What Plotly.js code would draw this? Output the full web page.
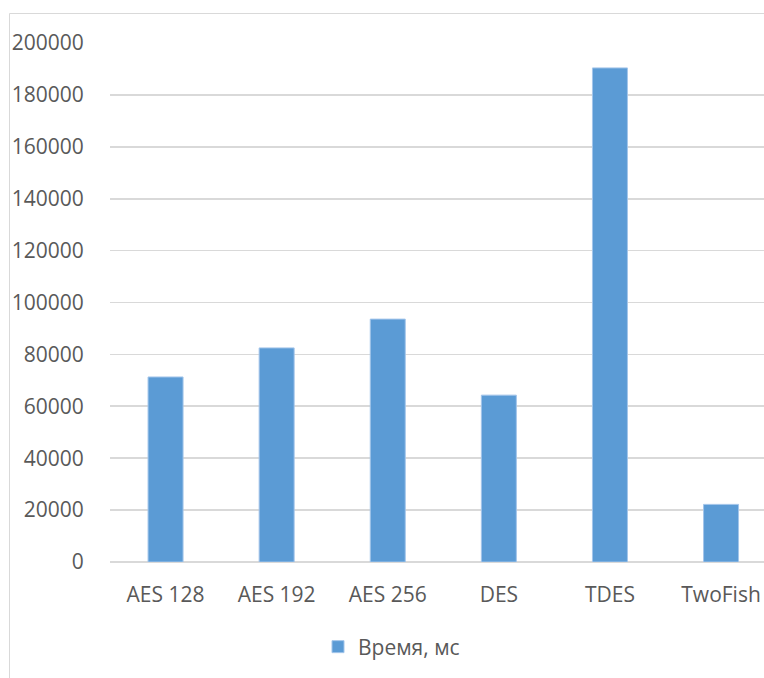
<!DOCTYPE html>
<html>
<head>
<meta charset="utf-8">
<script src="https://cdn.plot.ly/plotly-3.0.1.min.js"></script>
<style>
html,body{margin:0;padding:0;background:#fff;}
#chart{width:764px;height:678px;}
</style>
</head>
<body>
<div id="chart"></div>
<script>
const categories = ['AES 128', 'AES 192', 'AES 256', 'DES', 'TDES', 'TwoFish'];
const values = [71300, 82500, 93600, 64300, 190400, 22200];
const seriesName = 'Время, мс';
const yTicks = [0, 20000, 40000, 60000, 80000, 100000, 120000, 140000, 160000, 180000, 200000];

const W = 764, H = 678;
const M = {l: 110, r: 0, t: 43, b: 116, pad: 0};
const plotW = W - M.l - M.r, plotH = H - M.t - M.b;
const catStep = 111.1;
const px2x = px => (px - M.l) / plotW;
const py2y = py => (H - M.b - py) / plotH;

const font = {family: '"Open Sans", "Liberation Sans", sans-serif', size: 21, color: '#595959'};
const grid = '#d9d9d9';

const trace = {
  type: 'bar',
  x: categories,
  y: values,
  name: seriesName,
  showlegend: true,
  marker: {color: '#5b9bd5', line: {color: '#a3c5ea', width: 1}},
  hoverinfo: 'x+y'
};

const layout = {
  width: W, height: H,
  margin: M,
  paper_bgcolor: '#fff',
  plot_bgcolor: '#fff',
  font: font,
  bargap: 0.685,
  showlegend: true,
  xaxis: {
    type: 'category',
    range: [-0.5, -0.5 + plotW / catStep],
    showgrid: false,
    zeroline: false,
    showline: false,
    ticks: 'outside', ticklen: 14, tickcolor: 'rgba(0,0,0,0)',
    tickfont: font,
    fixedrange: true
  },
  yaxis: {
    range: [0, 200000],
    tickvals: yTicks,
    ticktext: yTicks.map(v => String(v)),
    showgrid: true, gridcolor: grid, gridwidth: 1.6,
    zeroline: true, zerolinecolor: grid, zerolinewidth: 1.6,
    showline: false,
    ticks: 'outside', ticklen: 21, tickcolor: 'rgba(0,0,0,0)',
    tickfont: font,
    fixedrange: true
  },
  legend: {
    orientation: 'h',
    x: px2x(318), xanchor: 'left',
    y: py2y(647), yanchor: 'middle',
    font: font,
    bgcolor: 'rgba(0,0,0,0)'
  },
  shapes: [
    {type: 'line', xref: 'paper', yref: 'paper', x0: px2x(9.5), x1: px2x(9.5), y0: py2y(13.5), y1: py2y(H + 2), line: {color: grid, width: 1}},
    {type: 'line', xref: 'paper', yref: 'paper', x0: px2x(9.5), x1: px2x(W + 2), y0: py2y(13.5), y1: py2y(13.5), line: {color: grid, width: 1}}
  ]
};

Plotly.newPlot('chart', [trace], layout, {displayModeBar: false, staticPlot: true});
</script>
</body>
</html>
